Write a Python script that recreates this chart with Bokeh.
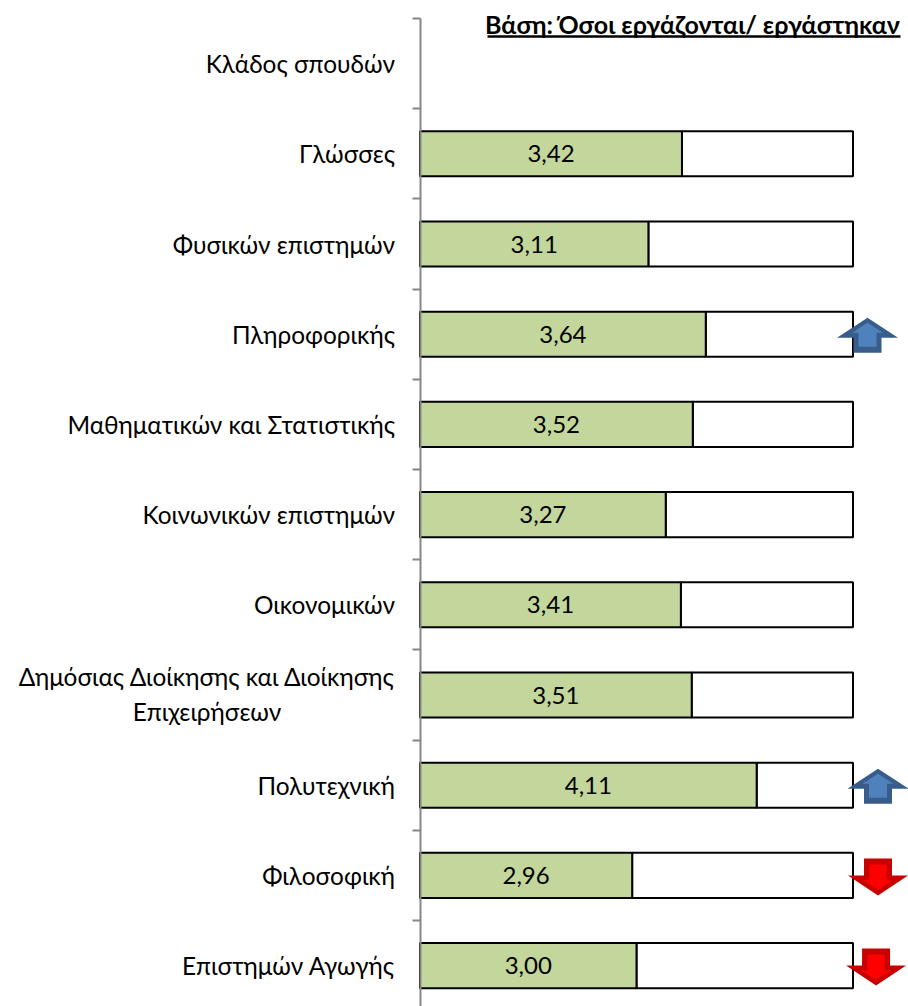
from bokeh.plotting import figure
from bokeh.models import Range1d, LinearAxis, FixedTicker, ColumnDataSource
from bokeh.core.properties import value
from bokeh.embed import file_html
from bokeh.resources import INLINE

categories = ["Κλάδος σπουδών", "Γλώσσες", "Φυσικών επιστημών", "Πληροφορικής",
              "Μαθηματικών και Στατιστικής", "Κοινωνικών επιστημών", "Οικονομικών",
              "Δημόσιας Διοίκησης και Διοίκησης\nΕπιχειρήσεων", "Πολυτεχνική",
              "Φιλοσοφική", "Επιστημών Αγωγής"]
bar_categories = categories[1:]
scores = [3.42, 3.11, 3.64, 3.52, 3.27, 3.41, 3.51, 4.11, 2.96, 3.00]
scale_min = 1
scale_max = 5
title_text = "Βάση: Όσοι εργάζονται/ εργάστηκαν"
up_arrows = {"Πληροφορικής": 5.134, "Πολυτεχνική": 5.231}
down_arrows = {"Φιλοσοφική": 5.231, "Επιστημών Αγωγής": 5.213}

FONT = "Lato"
W, H = 908, 1006
LEFT, TOP = 419.5, 18
PX_X = 108.25
PX_Y = 90.2


def dx(px):
    return scale_min + (px - LEFT) / PX_X


def dy(px):
    return (px - TOP) / PX_Y


p = figure(width=W, height=H, output_backend="svg", toolbar_location=None,
           x_axis_location=None, y_axis_location=None,
           x_range=Range1d(dx(0), dx(W)),
           y_range=Range1d(dy(H), dy(0)),
           min_border_left=0, min_border_right=0, min_border_top=0, min_border_bottom=0)
p.outline_line_color = None
p.grid.visible = False

ys = [categories.index(c) + 0.5 for c in bar_categories]
src = ColumnDataSource(dict(y=ys, v=scores, end=[scale_max] * len(scores),
                            base=[scale_min] * len(scores),
                            mid=[(scale_min + s) / 2 for s in scores],
                            lab=[f"{s:.2f}".replace(".", ",") for s in scores]))
p.hbar(y="y", left="v", right="end", height=0.5, source=src, fill_color="white",
       line_color="black", line_width=2)
p.hbar(y="y", left="base", right="v", height=0.5, source=src, fill_color="#C3D69B",
       line_color="black", line_width=2)
p.text(x="mid", y="y", text="lab", source=src, text_font=value(FONT), text_font_size="24px",
       text_align="center", text_baseline="middle", text_color="black")

# arrow outlines, in pixels around (centre of the arrow, centre of the bar)
UP_OUT = [(0, -16.5), (30.5, 3.5), (14, 3.5), (14, 18.5), (-14, 18.5), (-14, 3.5), (-30.5, 3.5)]
UP_IN = [(0, -11.5), (15.5, -1.5), (9, -1.5), (9, 12.5), (-9, 12.5), (-9, -1.5), (-15.5, -1.5)]
DOWN_OUT = [(0, 20), (30, 0), (14, 0), (14, -17), (-14, -17), (-14, 0), (-30, 0)]
DOWN_IN = [(0, 14), (15, 5), (8.5, 5), (8.5, -11), (-8.5, -11), (-8.5, 5), (-15, 5)]


def arrows(items, shape, color):
    xs, ys_ = [], []
    for cat, x in items.items():
        yc = categories.index(cat) + 0.5
        xs.append([x + ox / PX_X for ox, _ in shape])
        ys_.append([yc + oy / PX_Y for _, oy in shape])
    p.patches(xs, ys_, fill_color=color, line_color=None)


arrows(up_arrows, UP_OUT, "#385D8A")
arrows(up_arrows, UP_IN, "#4F81BD")
arrows(down_arrows, DOWN_OUT, "#C80000")
arrows(down_arrows, DOWN_IN, "#FF0000")

# the two-line category is centred on itself, so it is a text of its own
overrides = {i + 0.5: ("" if "\n" in c else c) for i, c in enumerate(categories)}
axis = LinearAxis(ticker=FixedTicker(ticks=[i + 0.5 for i in range(len(categories))],
                                     minor_ticks=list(range(len(categories) + 1))),
                  fixed_location=scale_min, bounds=(0, dy(H)),
                  major_label_overrides=overrides,
                  axis_line_color="#868686", axis_line_width=2,
                  major_tick_line_color=None, major_tick_in=0, major_tick_out=0,
                  minor_tick_line_color="#868686", minor_tick_line_width=2,
                  minor_tick_in=0, minor_tick_out=8,
                  major_label_standoff=17, major_label_text_font=FONT,
                  major_label_text_font_size="24.4px", major_label_text_color="black")
p.add_layout(axis, "left")

two_line = next(c for c in categories if "\n" in c)
p.text(x=[dx(206.5)], y=[categories.index(two_line) + 0.5], text=[two_line],
       y_offset=-1, text_font=value(FONT), text_font_size="24.4px", text_align="center",
       text_baseline="middle", text_color="black", text_line_height=1.2)

p.text(x=[dx(900)], y=[dy(23.5)], text=[title_text], text_font=value(FONT),
       text_font_size="25px", text_font_style="bold", text_align="right",
       text_baseline="middle", text_color="black")
p.segment(x0=[dx(487)], x1=[dx(900)], y0=[dy(36)], y1=[dy(36)], line_color="black", line_width=2.5)

open("out.html", "w").write(file_html(p, INLINE))
